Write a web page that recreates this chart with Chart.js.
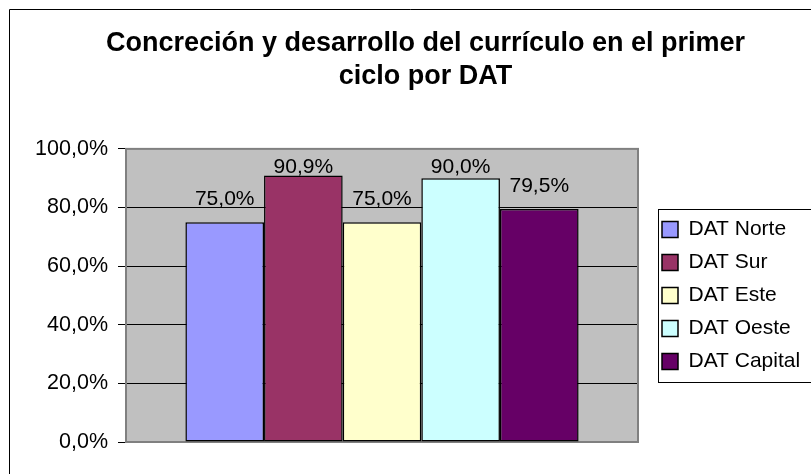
<!DOCTYPE html>
<html>
<head>
<meta charset="utf-8">
<script src="https://cdn.jsdelivr.net/npm/chart.js@4/dist/chart.umd.min.js"></script>
<style>
  html, body { margin: 0; padding: 0; background: #fff; }
  #wrap { width: 811px; height: 474px; position: relative; }
</style>
</head>
<body>
<div id="wrap"><canvas id="grafico"></canvas></div>
<script>
var titulo = ['Concreción y desarrollo del currículo en el primer', 'ciclo por DAT'];
var categorias = [''];
var series = ['DAT Norte', 'DAT Sur', 'DAT Este', 'DAT Oeste', 'DAT Capital'];
var valores = [75.0, 90.9, 75.0, 90.0, 79.5];
var colores = ['#9999FF', '#993366', '#FFFFCC', '#CCFFFF', '#660066'];
var marcasY = [0, 20, 40, 60, 80, 100];

function pct(v) { return v.toFixed(1).replace('.', ',') + '%'; }

Chart.defaults.font.family = "'Liberation Sans', Arial, sans-serif";
Chart.defaults.color = '#000';

var datasets = [];
for (var i in series) {
  datasets.push({
    label: series[i],
    data: [valores[i]],
    backgroundColor: colores[i],
    borderColor: '#000',
    borderWidth: 1.5,
    borderSkipped: false,
    categoryPercentage: 0.768,
    barPercentage: 1.0
  });
}

// fondo gris, marcos, etiquetas de valor y ajuste de la leyenda
var marco = {
  id: 'marco',
  beforeLayout: function(chart) {
    var lg = chart.legend;
    if (lg && !lg._ajustado) {
      var fit = lg.fit;
      lg.fit = function() { fit.call(this); this.width = 183; };
      lg._ajustado = true;
    }
  },
  afterLayout: function(chart) {
    var lg = chart.legend, a = chart.chartArea;
    lg.left = a.right + 12;
    lg.right = lg.left + lg.width;
    lg.top = a.top;
    lg.bottom = a.bottom;
    lg.height = a.bottom - a.top;
  },
  beforeDraw: function(chart) {
    var ctx = chart.ctx, a = chart.chartArea;
    ctx.save();
    ctx.fillStyle = '#fff';
    ctx.fillRect(0, 0, chart.width, chart.height);
    ctx.fillStyle = '#C0C0C0';
    ctx.fillRect(a.left, a.top, a.right - a.left, a.bottom - a.top);
    ctx.strokeStyle = '#000';
    ctx.lineWidth = 1;
    ctx.beginPath();
    ctx.moveTo(9.5, chart.height);
    ctx.lineTo(9.5, 9.5);
    ctx.lineTo(chart.width, 9.5);
    ctx.stroke();
    ctx.restore();
  },
  beforeDatasetsDraw: function(chart) {
    var ctx = chart.ctx, a = chart.chartArea;
    ctx.save();
    ctx.strokeStyle = '#808080';
    ctx.lineWidth = 2;
    ctx.strokeRect(a.left, a.top, a.right - a.left, a.bottom - a.top);
    ctx.restore();
  },
  afterDatasetsDraw: function(chart) {
    var ctx = chart.ctx, a = chart.chartArea;
    ctx.save();
    ctx.font = "21px 'Liberation Sans', Arial, sans-serif";
    ctx.fillStyle = '#000';
    ctx.textAlign = 'center';
    ctx.textBaseline = 'alphabetic';
    chart.data.datasets.forEach(function(ds, i) {
      var el = chart.getDatasetMeta(i).data[0];
      var y = Math.max(el.y - 17, a.top + 24);
      ctx.fillText(pct(ds.data[0]), el.x, y);
    });
    ctx.restore();
  },
  afterDraw: function(chart) {
    var ctx = chart.ctx, a = chart.chartArea, lg = chart.legend;
    var cy = (a.top + a.bottom) / 2;
    ctx.save();
    ctx.strokeStyle = '#000';
    ctx.lineWidth = 1;
    ctx.strokeRect(Math.round(lg.left + 8) + 0.5, Math.round(cy - 86) + 0.5, 300, 173);
    ctx.restore();
  }
};

var ctx = document.getElementById('grafico');

var grafico = new Chart(ctx, {
  type: 'bar',
  data: {
    labels: categorias,
    datasets: datasets
  },
  options: {
    responsive: true,
    maintainAspectRatio: false,
    animation: false,
    layout: { padding: { left: 30, right: -10, top: 0, bottom: 32 } },
    plugins: {
      title: {
        display: true,
        text: titulo,
        color: '#000',
        font: { size: 27, weight: 'bold', lineHeight: 1.22 },
        padding: { top: 27, bottom: 56 }
      },
      legend: {
        position: 'right',
        align: 'center',
        labels: {
          font: { size: 21 },
          color: '#000',
          boxWidth: 16,
          boxHeight: 16,
          padding: 12
        }
      },
      tooltip: { enabled: false }
    },
    scales: {
      x: { display: false },
      y: {
        min: 0,
        max: 100,
        afterBuildTicks: function(scale) {
          scale.ticks = marcasY.map(function(v) { return { value: v }; });
        },
        afterFit: function(scale) { scale.width = 96; },
        ticks: {
          font: { size: 21.5 },
          color: '#000',
          padding: 10,
          callback: function(v) { return pct(v); }
        },
        grid: { color: '#000', tickLength: 8, drawTicks: true },
        border: { color: '#404040', width: 1 }
      }
    }
  },
  plugins: [marco]
});
</script>
</body>
</html>
